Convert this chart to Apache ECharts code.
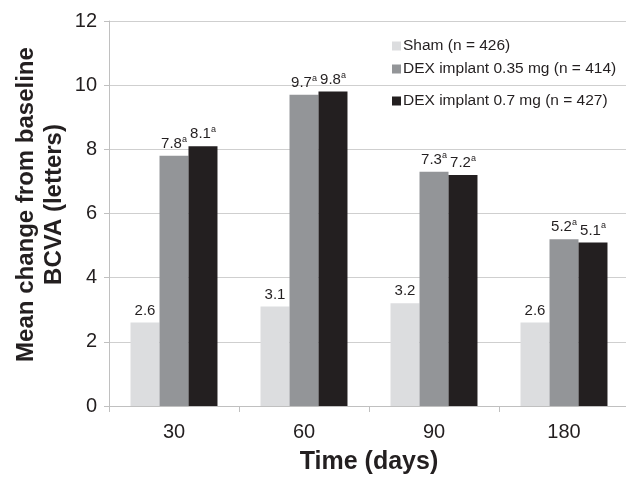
<!DOCTYPE html>
<html><head><meta charset="utf-8">
<script src="https://cdn.jsdelivr.net/npm/echarts@6/dist/echarts.min.js"></script>
<style>html,body{margin:0;padding:0;background:#fff}#c{width:626px;height:477px}</style>
</head><body><div id="c"></div>
<script>
const categories = ['30', '60', '90', '180'];
const shamValues = [2.6, 3.1, 3.2, 2.6];
const dex035Values = [7.8, 9.7, 7.3, 5.2];
const dex07Values = [8.1, 9.8, 7.2, 5.1];
const seriesNames = ['Sham (n = 426)', 'DEX implant 0.35 mg (n = 414)', 'DEX implant 0.7 mg (n = 427)'];
const seriesSup = [false, true, true];
const yTicks = [0, 2, 4, 6, 8, 10, 12];

const colors = ['#dcdddf', '#939598', '#231f20'];
const font = 'Liberation Sans, Arial, sans-serif';
const chart = echarts.init(document.getElementById('c'), null, {renderer: 'canvas'});
const allValues = [shamValues, dex035Values, dex07Values];
const series = allValues.map((vals, i) => ({
  name: seriesNames[i],
  type: 'bar',
  data: vals,
  barWidth: '22.3%',
  barGap: '0%',
  itemStyle: {color: colors[i]},
  label: {
    show: true,
    position: 'top',
    distance: 3,
    fontFamily: font,
    formatter: p => seriesSup[i] ? '{v|' + p.value.toFixed(1) + '}{s|a}' : '{v|' + p.value.toFixed(1) + '}',
    rich: {
      v: {fontSize: 15, color: '#231f20', fontFamily: font, lineHeight: 18},
      s: {fontSize: 9, color: '#231f20', fontFamily: font, verticalAlign: 'top', lineHeight: 18, padding: [0, 0, 7, 0]}
    }
  }
}));
const legends = seriesNames.map((n, i) => ({
  data: [n],
  left: 387,
  top: [33, 56, 88][i],
  itemWidth: 9,
  itemHeight: 9,
  itemGap: 0,
  icon: 'rect',
  textStyle: {fontFamily: font, fontSize: 15.5, color: '#231f20', padding: [0, 0, 0, -3]}
}));
chart.setOption({
  animation: false,
  color: colors,
  legend: legends,
  grid: {left: 109, top: 21, width: 520, bottom: 71, containLabel: false, outerBoundsMode: 'none'},
  xAxis: {
    type: 'category',
    data: categories,
    name: 'Time (days)',
    nameLocation: 'middle',
    nameGap: 44,
    nameMoveOverlap: false,
    nameTextStyle: {fontFamily: font, fontSize: 25, fontWeight: 'bold', color: '#231f20'},
    axisLine: {lineStyle: {color: '#c0c0c0', width: 1}},
    axisTick: {show: true, length: 6, lineStyle: {color: '#c0c0c0'}},
    axisLabel: {fontFamily: font, fontSize: 20, color: '#231f20', margin: 16}
  },
  yAxis: {
    type: 'value',
    min: yTicks[0],
    max: yTicks[yTicks.length - 1],
    interval: 2,
    name: 'Mean change from baseline\nBCVA (letters)',
    nameLocation: 'middle',
    nameGap: 41,
    nameMoveOverlap: false,
    nameTextStyle: {fontFamily: font, fontSize: 24, fontWeight: 'bold', color: '#231f20', lineHeight: 28, padding: [0, 0, 0, 18]},
    axisLine: {show: true, lineStyle: {color: '#c0c0c0'}},
    axisTick: {show: true, length: 5, lineStyle: {color: '#c0c0c0'}},
    axisLabel: {fontFamily: font, fontSize: 20, color: '#231f20', margin: 12},
    splitLine: {lineStyle: {color: '#cfcfcf'}}
  },
  series: series
});
</script></body></html>
